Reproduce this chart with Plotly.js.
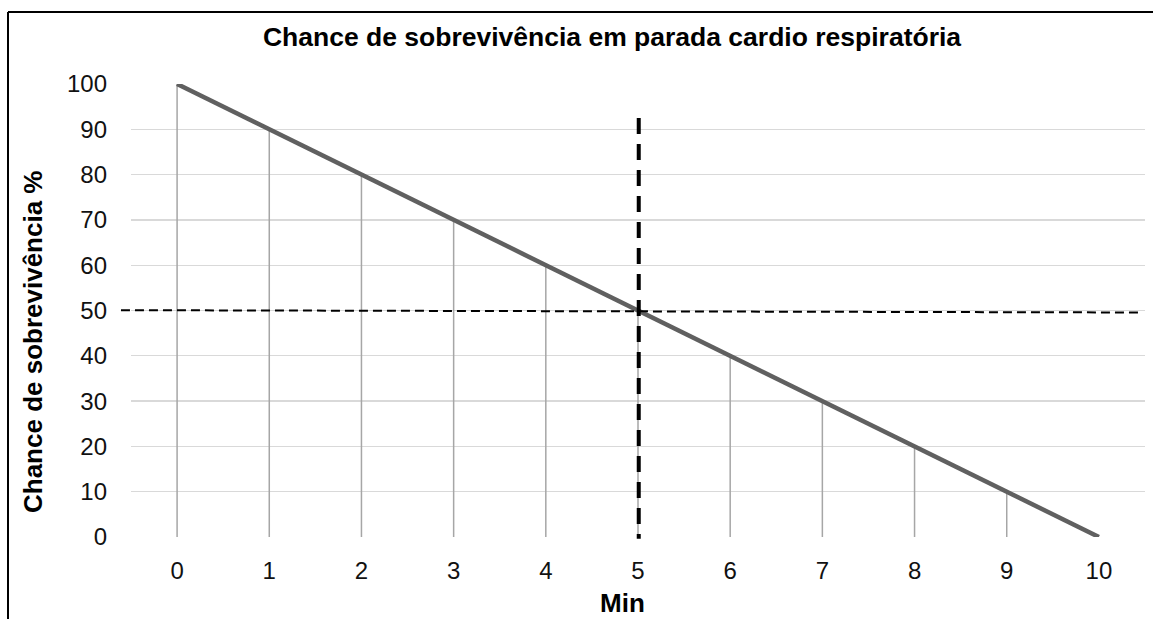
<!DOCTYPE html>
<html>
<head>
<meta charset="utf-8">
<script src="https://cdn.plot.ly/plotly-3.0.1.min.js"></script>
<style>html,body{margin:0;padding:0;background:#fff;}#chart{width:1153px;height:619px;}</style>
</head>
<body>
<div id="chart"></div>
<script>
const minutes = [0, 1, 2, 3, 4, 5, 6, 7, 8, 9, 10];
const minuteLabels = ['0','1','2','3','4','5','6','7','8','9','10'];
const survival = [100, 90, 80, 70, 60, 50, 40, 30, 20, 10, 0];
const yTicks = [0, 10, 20, 30, 40, 50, 60, 70, 80, 90, 100];
const refMinute = 5;
const refChance = 50;

const titleText = 'Chance de sobrevivência em parada cardio respiratória';
const yTitleText = 'Chance de sobrevivência %';
const xTitleText = 'Min';

const FONT = 'Liberation Sans, Arial, sans-serif';

// drop lines built from the data
const dropX = [], dropY = [];
minutes.forEach((m, i) => { dropX.push(m, m, null); dropY.push(0, survival[i], null); });

const traces = [
  {x: dropX, y: dropY, mode: 'lines', line: {color: '#a6a6a6', width: 1.5}, hoverinfo: 'skip', showlegend: false},
  {x: minutes, y: survival, mode: 'lines', line: {color: '#606060', width: 4.5}, showlegend: false}
];

const layout = {
  width: 1153, height: 619,
  margin: {l: 131, r: 8, t: 84, b: 82},
  paper_bgcolor: '#fff', plot_bgcolor: '#fff',
  font: {family: FONT, color: '#111'},
  title: {text: titleText, font: {family: FONT, size: 26.5, color: '#000', weight: 'bold'},
          xref: 'container', x: 612/1153, xanchor: 'center', yref: 'container', y: 1 - 37/619, yanchor: 'middle'},
  xaxis: {range: [-0.5, 10.5], tickvals: minutes, ticktext: minuteLabels, showgrid: false, zeroline: false,
          showline: false, ticks: '', tickfont: {size: 24, color: '#111'}, ticklabelstandoff: 17, fixedrange: true},
  yaxis: {range: [0, 100], tickvals: yTicks, showgrid: true, gridcolor: '#d9d9d9', gridwidth: 1.3, zeroline: false,
          showline: false, ticks: '', tickfont: {size: 24, color: '#111'}, ticklabelstandoff: 23, fixedrange: true},
  annotations: [
    {text: yTitleText, xref: 'paper', yref: 'paper', x: (33-131)/1014, y: (537-342)/453, xanchor: 'center', yanchor: 'middle',
     textangle: -90, showarrow: false, font: {family: FONT, size: 26, color: '#000', weight: 'bold'}},
    {text: xTitleText, xref: 'paper', yref: 'paper', x: (622.7-131)/1014, y: (537-603)/453, xanchor: 'center', yanchor: 'middle',
     showarrow: false, font: {family: FONT, size: 26, color: '#000', weight: 'bold'}}
  ],
  shapes: [
    // horizontal reference at 50 %
    {type: 'line', xref: 'paper', yref: 'y', x0: -0.0099, x1: 0.997, y0: refChance + 0.07, y1: refChance - 0.44,
     line: {color: '#000', width: 2, dash: '9px,5px'}},
    // vertical reference at 5 min
    {type: 'line', xref: 'x', yref: 'paper', x0: refMinute + 0.008, x1: refMinute + 0.008, y0: 0.925, y1: -0.004,
     line: {color: '#000', width: 4, dash: '16px,10px'}},
    // outer frame (top and left)
    {type: 'line', xref: 'paper', yref: 'paper', x0: -0.1213, x1: 1.05, y0: 1.1589, y1: 1.1589, line: {color: '#000', width: 2}},
    {type: 'line', xref: 'paper', yref: 'paper', x0: -0.1213, x1: -0.1213, y0: 1.1589, y1: -0.25, line: {color: '#000', width: 2}}
  ]
};

Plotly.newPlot('chart', traces, layout, {displayModeBar: false, staticPlot: true});
</script>
</body>
</html>
